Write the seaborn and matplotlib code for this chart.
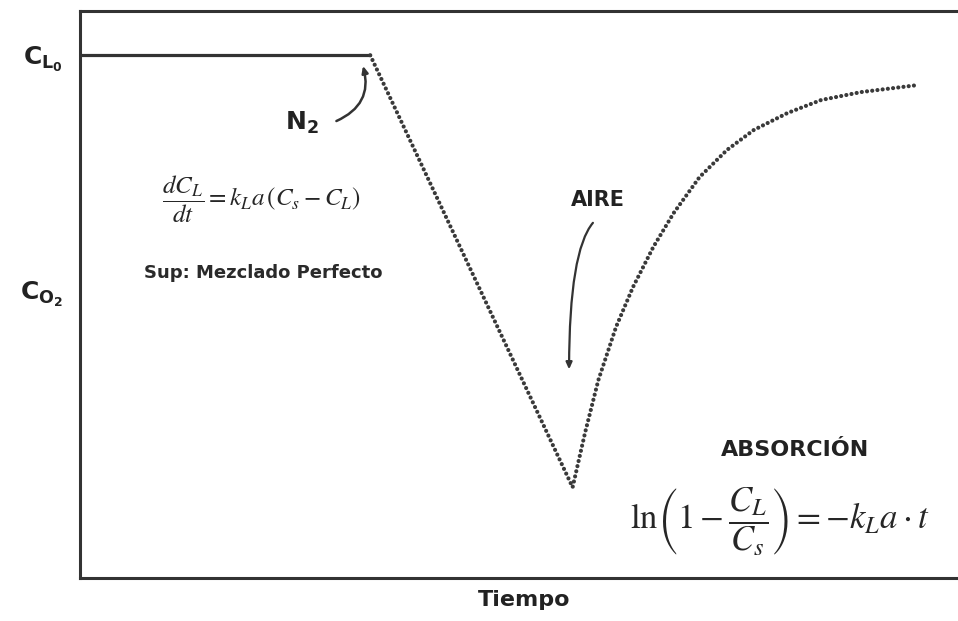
import numpy as np
import pandas as pd
import seaborn as sns
import matplotlib.pyplot as plt

# Curva de oxígeno disuelto (lectura aproximada del gráfico)
t_n2 = [0.0, 32.7]
c_n2 = [92.2, 92.2]

t_aire = [32.7, 55.5, 56.9, 58.4, 60.4, 62.3, 64.6, 66.9, 69.8, 72.9, 75.9, 79.7, 83.5, 88.0, 94.2]
c_aire = [92.2, 16.0, 25.6, 34.9, 44.3, 51.3, 58.4, 64.4, 70.7, 75.5, 79.0, 82.0, 84.3, 85.7, 86.9]

ytick_pos = [92.2, 50.8]
ytick_lab = [r"$\mathbf{C_{L_0}}$", r"$\mathbf{C_{O_2}}$"]

df_n2 = pd.DataFrame({"t": t_n2, "c": c_n2})
df_aire = pd.DataFrame({"t": t_aire, "c": c_aire})

sns.set_style("white")
plt.rcParams["font.family"] = ["DejaVu Sans"]
plt.rcParams["mathtext.fontset"] = "dejavusans"

fig = plt.figure(figsize=(9.58, 6.21), dpi=100)
ax = fig.add_axes([80 / 958, 1 - 578 / 621, 1 - 80 / 958 + 0.01, (578 - 11) / 621])

gris = "#333333"
sns.lineplot(data=df_n2, x="t", y="c", ax=ax, color=gris, linewidth=2.3)
sns.lineplot(data=df_aire, x="t", y="c", ax=ax, color="#3a3a3a", linewidth=3.0,
             linestyle=(0, (0.01, 1.25)), dash_capstyle="round")

ax.set_xlim(0, 100)
ax.set_ylim(0, 100)
ax.set_xticks([])
ax.set_yticks(ytick_pos)
ax.set_yticklabels(ytick_lab, fontsize=18, color="#222222")
ax.tick_params(axis="y", length=0, pad=12)
ax.set_xlabel("Tiempo", fontsize=16, fontweight="bold", labelpad=9, color="#222222")
ax.set_ylabel("")

for s in ["left", "top", "bottom"]:
    ax.spines[s].set_color(gris)
    ax.spines[s].set_linewidth(2.2)
ax.spines["right"].set_visible(False)

# Anotaciones
ax.text(25.0, 80.3, r"$\mathbf{N_2}$", fontsize=18, ha="center", va="center", color="#222222")
ax.annotate("", xy=(31.8, 90.8), xytext=(28.6, 80.4),
            arrowprops=dict(arrowstyle="-|>,head_length=0.4,head_width=0.18", color=gris,
                            lw=1.8, connectionstyle="arc3,rad=0.45"))

ax.text(58.4, 66.6, "AIRE", fontsize=15, fontweight="bold", ha="center", va="center",
        color="#222222")
ax.annotate("", xy=(55.1, 36.3), xytext=(58.0, 63.0),
            arrowprops=dict(arrowstyle="-|>,head_length=0.4,head_width=0.18", color=gris,
                            lw=1.6, connectionstyle="angle3,angleA=45,angleB=90"))

ax.text(20.4, 66.7, r"$\dfrac{dC_L}{dt} = k_L a\,(C_s - C_L)$", fontsize=18,
        ha="center", va="center", math_fontfamily="stix")
ax.text(20.7, 53.8, "Sup: Mezclado Perfecto", fontsize=13, fontweight="bold",
        ha="center", va="center", color="#2a2a2a")

ax.text(80.6, 22.5, "ABSORCIÓN", fontsize=16, fontweight="bold", ha="center", va="center",
        color="#222222")
ax.text(78.8, 9.9, r"$\ln\!\left(1-\dfrac{C_L}{C_s}\right) = -k_L a\cdot t$", fontsize=25,
        ha="center", va="center", math_fontfamily="stix")

fig.savefig("out.png", dpi=100)
